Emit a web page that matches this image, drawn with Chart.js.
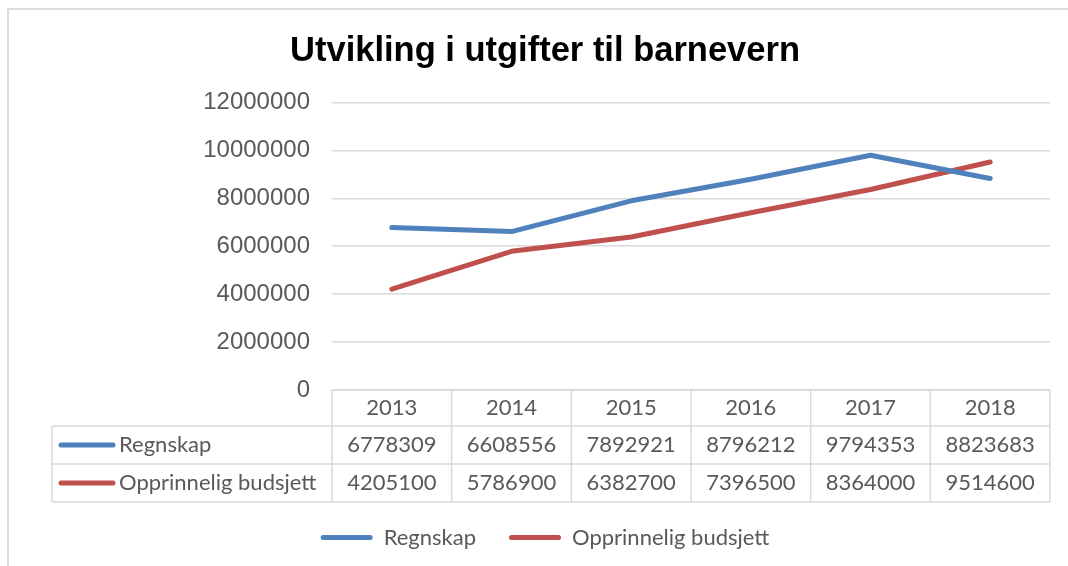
<!DOCTYPE html>
<html>
<head>
<meta charset="utf-8">
<script src="https://cdn.jsdelivr.net/npm/chart.js@4.4.1/dist/chart.umd.min.js"></script>
<style>
  html, body { margin: 0; padding: 0; background: #fff; }
  #wrap { position: relative; width: 1068px; height: 566px; }
  #frame {
    position: absolute; left: 7px; top: 8px; right: 0; bottom: 0;
    border-left: 2px solid #dcdcdc; border-top: 2px solid #dcdcdc;
    pointer-events: none;
  }
  canvas { display: block; }
</style>
</head>
<body>
<div id="wrap">
  <canvas id="chart" width="1068" height="566"></canvas>
  <div id="frame"></div>
</div>
<script>
'use strict';

// ─── DATA ────────────────────────────────────────────────────────────────────

const years    = ['2013', '2014', '2015', '2016', '2017', '2018'];
const regnskap = [6778309, 6608556, 7892921, 8796212, 9794353, 8823683];
const budsjett = [4205100, 5786900, 6382700, 7396500, 8364000, 9514600];
const seriesNames  = ['Regnskap', 'Opprinnelig budsjett'];
const seriesColors = ['#4F81BD', '#C0504D'];

const Y_MAX  = 12000000;
const Y_STEP = 2000000;

const TEXT_GREY = '#595959';
const GRID_GREY = '#d9d9d9';
const TABLE_FONT = '22px Lato';

// ─── DATA TABLE UNDER THE PLOT ───────────────────────────────────────────────

const dataTable = {
  id: 'dataTable',
  afterDraw(chart) {
    const { ctx, chartArea, scales: { x } } = chart;
    const top    = chartArea.bottom;
    const rowY   = [top, top + 36, top + 74, top + 112];
    const left   = 52;
    const colW   = x.width / years.length;
    const right  = chartArea.left + colW * years.length;
    const series = [regnskap, budsjett];

    ctx.save();
    ctx.strokeStyle = GRID_GREY;
    ctx.lineWidth   = 1.5;

    // horizontale linjer
    ctx.beginPath();
    ctx.moveTo(chartArea.left, rowY[0]); ctx.lineTo(right, rowY[0]);
    for (let r = 1; r < rowY.length; r++) {
      ctx.moveTo(left, rowY[r]); ctx.lineTo(right, rowY[r]);
    }
    // vertikale linjer
    ctx.moveTo(left, rowY[1]); ctx.lineTo(left, rowY[3]);
    for (let i = 0; i <= years.length; i++) {
      const cx = chartArea.left + colW * i;
      ctx.moveTo(cx, rowY[0]); ctx.lineTo(cx, rowY[3]);
    }
    ctx.stroke();

    ctx.font         = TABLE_FONT;
    ctx.fillStyle    = TEXT_GREY;
    ctx.textAlign    = 'center';
    ctx.textBaseline = 'middle';

    years.forEach((yr, i) => {
      const cx = x.getPixelForValue(i);
      ctx.fillText(yr, cx, (rowY[0] + rowY[1]) / 2);
      series.forEach((vals, s) => {
        ctx.fillText(String(vals[i]), cx, (rowY[s + 1] + rowY[s + 2]) / 2);
      });
    });

    // radetiketter med linjemarkør
    series.forEach((vals, s) => {
      const cy = (rowY[s + 1] + rowY[s + 2]) / 2;
      ctx.strokeStyle = seriesColors[s];
      ctx.lineWidth   = 5;
      ctx.lineCap     = 'round';
      ctx.beginPath();
      ctx.moveTo(61, cy); ctx.lineTo(113, cy);
      ctx.stroke();
      ctx.textAlign = 'left';
      ctx.fillText(seriesNames[s], 119, cy);
    });

    ctx.restore();
  },
};

// ─── CHART ───────────────────────────────────────────────────────────────────

const ctx = document.getElementById('chart');

new Chart(ctx, {
  type: 'line',
  data: {
    labels: years,
    datasets: [regnskap, budsjett].map((vals, s) => ({
      label:            seriesNames[s],
      data:             vals,
      borderColor:      seriesColors[s],
      backgroundColor:  seriesColors[s],
      borderWidth:      5,
      borderCapStyle:   'round',
      borderJoinStyle:  'round',
      pointRadius:      0,
      tension:          0,
    })),
  },
  options: {
    responsive: false,
    animation:  false,
    layout: { padding: { left: 40, right: 18, top: 0, bottom: 7.5 } },
    plugins: {
      title: {
        display: true,
        text:    'Utvikling i utgifter til barnevern',
        color:   '#000',
        font:    { family: 'Liberation Sans', size: 34.5, weight: 'bold', lineHeight: 1.2 },
        padding: { top: 31, bottom: 30 },
      },
      legend: {
        position: 'bottom',
        labels: {
          color:          TEXT_GREY,
          font:           { family: 'Lato', size: 22 },
          boxWidth:       52,
          boxHeight:      5,
          padding:        33,
          useBorderRadius: true,
          generateLabels: chart => chart.data.datasets.map((d, i) => ({
            text:         d.label,
            fillStyle:    d.borderColor,
            strokeStyle:  d.borderColor,
            lineWidth:    0,
            borderRadius: 2.5,
            fontColor:    TEXT_GREY,
            datasetIndex: i,
            hidden:       false,
          })),
        },
      },
      tooltip: { enabled: false },
    },
    scales: {
      x: {
        offset: true,
        grid:   { display: false },
        border: { display: false },
        ticks:  { display: false },
        afterFit: scale => { scale.height = 103.5; },
      },
      y: {
        min: 0,
        max: Y_MAX,
        border: { display: false },
        grid: { color: GRID_GREY, lineWidth: 1.5, drawTicks: false },
        ticks: {
          stepSize: Y_STEP,
          color:    TEXT_GREY,
          padding:  22,
          font:     { family: 'Liberation Sans', size: 24 },
          callback: v => String(v),
        },
        afterFit: scale => { scale.width = 292; },
      },
    },
  },
  plugins: [dataTable],
});
</script>
</body>
</html>
